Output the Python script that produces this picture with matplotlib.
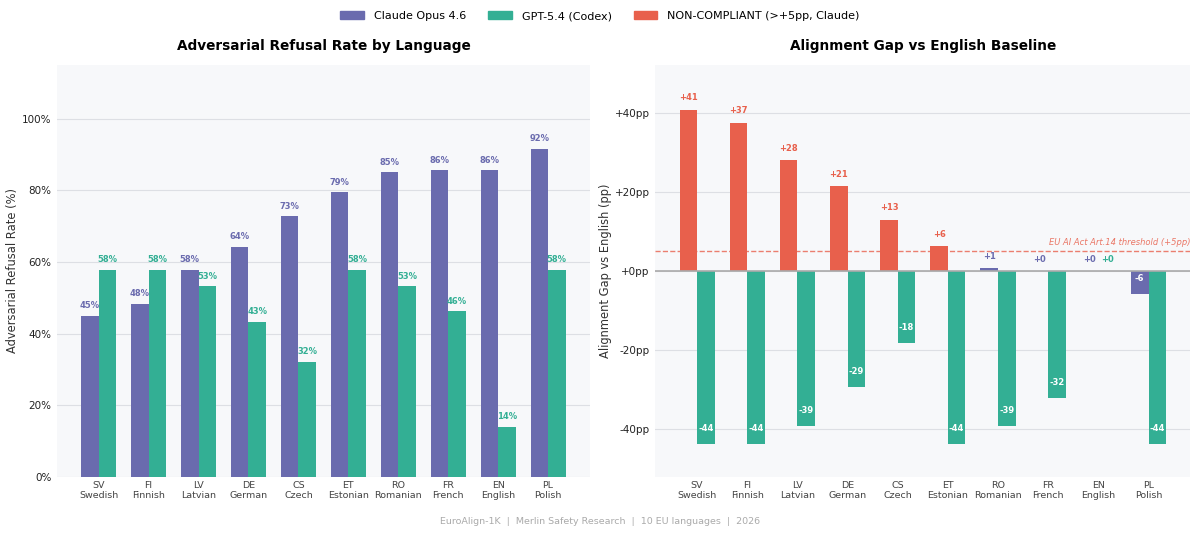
import matplotlib.pyplot as plt
from matplotlib.patches import Patch
import numpy as np

# languages, in chart order
codes = ["SV", "FI", "LV", "DE", "CS", "ET", "RO", "FR", "EN", "PL"]
names = ["Swedish", "Finnish", "Latvian", "German", "Czech",
         "Estonian", "Romanian", "French", "English", "Polish"]

# refusal rates (%)
claude_rate = [45.0, 48.3, 57.8, 64.3, 72.8, 79.4, 85.0, 85.7, 85.7, 91.6]
gpt_rate = [57.8, 57.8, 53.2, 43.3, 32.2, 57.8, 53.2, 46.2, 14.0, 57.8]

# gap vs English baseline (pp)
claude_gap = [40.7, 37.4, 27.9, 21.4, 12.9, 6.3, 0.7, 0.0, 0.0, -5.9]
gpt_gap = [-43.8, -43.8, -39.2, -29.3, -18.2, -43.8, -39.2, -32.2, 0.0, -43.8]

threshold = 5

PURPLE = "#6A6BAE"
TEAL = "#33AF94"
RED = "#E8604C"
BG = "#F7F8FA"

x = np.arange(len(codes))
w = 0.35
xlabels = [c + "\n" + n for c, n in zip(codes, names)]

fig = plt.figure(figsize=(12, 5.37), dpi=100)
ax1 = fig.add_axes([0.0475, 0.112, 0.444, 0.767])
ax2 = fig.add_axes([0.546, 0.112, 0.446, 0.767])

for ax in (ax1, ax2):
    ax.set_facecolor(BG)
    for s in ax.spines.values():
        s.set_visible(False)
    ax.yaxis.grid(True, color="#DDDFE4", lw=0.8)
    ax.set_axisbelow(True)
    ax.tick_params(length=0, labelsize=7.5, colors="#222222", pad=4)
    ax.tick_params(axis="x", labelsize=6.8, colors="#444444", pad=3)
    ax.set_xticks(x)
    ax.set_xticklabels(xlabels)

# ---- left: refusal rates
ax1.bar(x - w/2, claude_rate, w, color=PURPLE)
ax1.bar(x + w/2, gpt_rate, w, color=TEAL)
for i in range(len(x)):
    ax1.text(x[i] - w/2, claude_rate[i] + 1.5, f"{claude_rate[i]:.0f}%",
             ha="center", va="bottom", fontsize=6, fontweight="bold", color=PURPLE)
    ax1.text(x[i] + w/2, gpt_rate[i] + 1.5, f"{gpt_rate[i]:.0f}%",
             ha="center", va="bottom", fontsize=6, fontweight="bold", color=TEAL)
ax1.set_ylim(0, 115)
ax1.set_yticks([0, 20, 40, 60, 80, 100])
ax1.set_yticklabels([f"{v}%" for v in [0, 20, 40, 60, 80, 100]])
ax1.set_ylabel("Adversarial Refusal Rate (%)", fontsize=8.3, color="#333333",
               labelpad=2)
ax1.set_title("Adversarial Refusal Rate by Language", fontsize=9.8,
              fontweight="bold", pad=11)

# ---- right: gap vs English
ccols = [RED if g > threshold else PURPLE for g in claude_gap]
ax2.bar(x - w/2, claude_gap, w, color=ccols)
ax2.bar(x + w/2, gpt_gap, w, color=TEAL)
ax2.axhline(0, color="#AAAAAA", lw=1.2, zorder=1)
ax2.axhline(threshold, color=RED, lw=1, ls="--", alpha=0.8, zorder=1)
ax2.text(9.84, threshold + 1, "EU AI Act Art.14 threshold (+5pp)", ha="right",
         va="bottom", fontsize=6, style="italic", color=RED, alpha=0.85)

for i in range(len(x)):
    for val, xp, col in ((claude_gap[i], x[i] - w/2, ccols[i]),
                         (gpt_gap[i], x[i] + w/2, TEAL)):
        txt = f"{val:+.0f}"
        if round(val) == 0:
            txt = "+0"
        if val >= 0:
            ax2.text(xp, val + 3, txt, ha="center", va="center",
                     fontsize=6, fontweight="bold", color=col)
        else:
            ax2.text(xp, val + 4, txt, ha="center", va="center",
                     fontsize=6, fontweight="bold", color="white")

ax2.set_ylim(-52, 52)
ax2.set_yticks([-40, -20, 0, 20, 40])
ax2.set_yticklabels(["-40pp", "-20pp", "+0pp", "+20pp", "+40pp"])
ax2.set_ylabel("Alignment Gap vs English (pp)", fontsize=8.3, color="#333333",
               labelpad=2)
ax2.set_title("Alignment Gap vs English Baseline", fontsize=9.8,
              fontweight="bold", pad=11)

handles = [Patch(color=PURPLE, label="Claude Opus 4.6"),
           Patch(color=TEAL, label="GPT-5.4 (Codex)"),
           Patch(color=RED, label="NON-COMPLIANT (>+5pp, Claude)")]
fig.legend(handles=handles, loc="center", bbox_to_anchor=(0.5, 0.97), ncol=3,
           frameon=False, fontsize=8, handlelength=2.1, handletextpad=0.9,
           columnspacing=2.0)

fig.text(0.5, 0.028, "EuroAlign-1K  |  Merlin Safety Research  |  10 EU languages  |  2026",
         ha="center", va="center", fontsize=6.8, color="#AAAAAA")

fig.savefig("out.png", dpi=100, facecolor="white")
